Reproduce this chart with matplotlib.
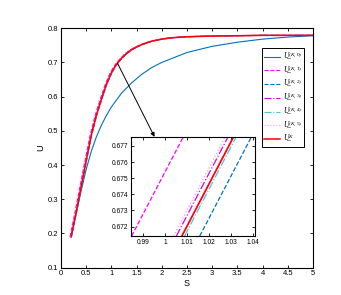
import numpy as np
import matplotlib
matplotlib.use('Agg')
import matplotlib.pyplot as plt

plt.rcParams['font.family'] = ['Liberation Sans', 'DejaVu Sans']
plt.rcParams['mathtext.fontset'] = 'custom'
plt.rcParams['mathtext.rm'] = 'Liberation Serif'
plt.rcParams['mathtext.it'] = 'Liberation Serif:italic'

# red curve U^(K)
s_k = [0.2, 0.3, 0.4, 0.5, 0.6, 0.7, 0.8, 0.9, 1.0, 1.05, 1.1, 1.2, 1.3, 1.4, 1.5,
       1.6, 1.8, 2.0, 2.2, 2.5, 3.0, 3.5, 4.0, 5.0]
u_k = [0.19, 0.262, 0.338, 0.414, 0.487, 0.545, 0.592, 0.636, 0.6694, 0.6825, 0.694,
       0.712, 0.726, 0.737, 0.745, 0.752, 0.762, 0.768, 0.772, 0.775, 0.777, 0.778,
       0.779, 0.779]

# blue curve U^(K,0)
s_k0 = [0.2, 0.3, 0.4, 0.5, 0.6, 0.7, 0.8, 0.9, 1.0, 1.2, 1.4, 1.6, 1.8, 2.0, 2.5,
        3.0, 3.5, 4.0, 4.5, 5.0]
u_k0 = [0.19, 0.258, 0.325, 0.388, 0.44, 0.482, 0.516, 0.545, 0.570, 0.610, 0.640,
        0.665, 0.685, 0.700, 0.729, 0.747, 0.759, 0.768, 0.774, 0.778]

# horizontal offset of the K,1..K,5 curves from U^(K), read from the zoom box
names = ['(K,1)', '(K,2)', '(K,3)', '(K,4)', '(K,5)']
s_shift = [-0.0228, 0.0081, -0.0025, 0.0012, -0.0038]
colors = ['#FF00FF', '#0072BD', '#DD00DD', '#4DBEEE', '#FF99FF']
styles = ['--', '--', '-.', '-.', ':']

fig = plt.figure(figsize=(3.41, 2.95), dpi=100)
ax = fig.add_axes([0.179, 0.0925, 0.739, 0.812])
axins = fig.add_axes([0.384, 0.2, 0.364, 0.336])


def lab(sup):
    return 'U\u0332$^{' + sup + '}$'


def draw(a, lw):
    a.plot(s_k0, u_k0, color='#0072BD', lw=lw, label=lab('(K,0)'))
    for i in range(len(names)):
        a.plot(np.array(s_k) + s_shift[i], u_k, color=colors[i], ls=styles[i], lw=lw,
               label=lab(names[i]))
    a.plot(s_k, u_k, color='#FF0000', lw=lw * 1.4, label=lab('K'))


draw(ax, 0.8)
draw(axins, 0.9)

ax.set_xlim(0, 5)
ax.set_ylim(0.1, 0.8)
ax.set_xticks(np.arange(0, 5.01, 0.5))
ax.set_xticklabels(['0', '0.5', '1', '1.5', '2', '2.5', '3', '3.5', '4', '4.5', '5'])
ax.set_yticks(np.arange(0.1, 0.81, 0.1))
ax.set_yticklabels(['0.1', '0.2', '0.3', '0.4', '0.5', '0.6', '0.7', '0.8'])
ax.set_xlabel('S', fontsize=6.5, labelpad=1)
ax.set_ylabel('U', fontsize=6.5, labelpad=2)

axins.set_xlim(0.9846, 1.0409)
axins.set_ylim(0.67142, 0.67756)
axins.set_xticks([0.99, 1.0, 1.01, 1.02, 1.03, 1.04])
axins.set_xticklabels(['0.99', '1', '1.01', '1.02', '1.03', '1.04'])
axins.set_yticks([0.672, 0.673, 0.674, 0.675, 0.676, 0.677])
axins.set_yticklabels(['0.672', '0.673', '0.674', '0.675', '0.676', '0.677'])

for a, fs in [(ax, 5.5), (axins, 4.8)]:
    a.tick_params(direction='in', top=True, right=True, labelsize=fs,
                  length=2.5, width=0.6, pad=2)
    for sp in a.spines.values():
        sp.set_linewidth(0.8)

leg = ax.legend(loc='upper left', bbox_to_anchor=(0.797, 0.916), borderaxespad=0,
                prop={'family': ['Liberation Serif', 'DejaVu Serif'], 'style': 'italic',
                      'size': 5.5},
                handlelength=2.1, handletextpad=0.35, labelspacing=0.3,
                fancybox=False, edgecolor='k', framealpha=1, borderpad=0.3)
leg.get_frame().set_linewidth(0.7)

s_arrow = 1.12
ax.annotate('', xy=(0.19, 1.0), xycoords=axins.transAxes,
            xytext=(s_arrow, np.interp(s_arrow, s_k, u_k)), textcoords='data',
            arrowprops=dict(arrowstyle='-|>', color='k', lw=0.7,
                            mutation_scale=6, shrinkA=0, shrinkB=0))

fig.savefig('out.png', dpi=100)
